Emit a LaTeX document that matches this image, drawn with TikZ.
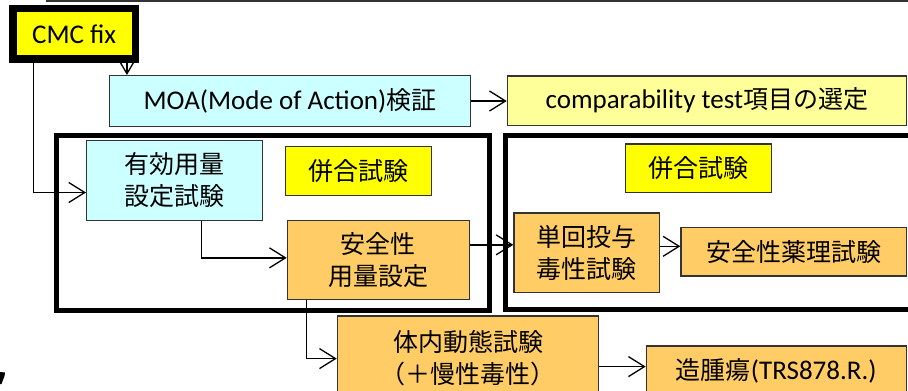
\documentclass[tikz,border=0pt]{standalone}
\usepackage{fontspec}
\setmainfont{Carlito}[Scale=1.08]
\newfontfamily\cjk{Noto Sans CJK JP}
\usetikzlibrary{arrows.meta}
\definecolor{lcyan}{HTML}{CCFFFF}
\definecolor{lyellow}{HTML}{FFFF99}
\definecolor{byellow}{HTML}{FFFF00}
\definecolor{lorange}{HTML}{FFCC66}

\begin{document}
\begin{tikzpicture}[x=1pt,y=-1pt,
		box/.style={draw=black!80,line width=1.4pt,inner sep=0pt,align=center,font=\fontsize{25}{32}\selectfont},
		jbox/.style={box,font=\fontsize{25}{32}\selectfont\cjk},
		arr/.style={-{Straight Barb[length=16pt,width=20pt]},line width=1.3pt},
		frame/.style={line width=5pt}]
		\useasboundingbox (0,0) rectangle (908,391);
		\clip (0,0) rectangle (908,391);
		\draw[draw=black!80,line width=1.6pt] (47,-20) rectangle (930,1.2);
		\draw[frame] (56,135.5) rectangle (489.5,310);
		\draw[frame] (505,135) rectangle (930,309.5);
		\fill (0,372) -- (5,372.5) -- (4.5,376) -- (1.5,384) -- (0,384) -- cycle;
		\draw (74.15,33.85) node [box,draw=black,line width=7.3pt,fill=byellow,minimum width=122.3pt,minimum height=50.3pt] (cmc) {CMC fix};
		\draw (290,101) node [box,fill=lcyan,minimum width=360.6pt,minimum height=50.6pt] (moa) {MOA(Mode of Action){\cjk 検証}};
		\draw (706.85,100.65) node [box,fill=lyellow,minimum width=398.9pt,minimum height=49.3pt] (comp) {comparability test{\cjk 項目の選定}};
		\draw (174.65,180.5) node [jbox,fill=lcyan,minimum width=175.9pt,minimum height=79.6pt] (eff) {有効用量\\設定試験};
		\draw (358.65,170.85) node [jbox,fill=byellow,minimum width=145.9pt,minimum height=48.9pt] (comba) {併合試験};
		\draw (698.65,168.3) node [jbox,fill=byellow,minimum width=145.9pt,minimum height=48.6pt] (combb) {併合試験};
		\draw (378.35,259.85) node [jbox,fill=lorange,minimum width=181.9pt,minimum height=78.9pt] (dose) {安全性\\用量設定};
		\draw (586.8,252.8) node [jbox,fill=lorange,minimum width=145.6pt,minimum height=79.6pt] (single) {単回投与\\毒性試験};
		\draw (793.65,251.7) node [jbox,fill=lorange,minimum width=225.3pt,minimum height=48.6pt] (pharm) {安全性薬理試験};
		\draw (468,358.6) node [jbox,fill=lorange,minimum width=261.2pt,minimum height=85.2pt] (pk) {体内動態試験\\（＋慢性毒性）};
		\draw (776.35,371.15) node [box,fill=lorange,minimum width=259.9pt,minimum height=50.3pt] (tum) {{\cjk 造腫瘍}(TRS878.R.)};
		\draw[-{Straight Barb[length=11pt,width=13pt]},line width=1.3pt] ([xshift=-12pt]cmc.south east) -- ([xshift=-12pt]cmc.south east |- moa.north);
		\draw[arr] ([xshift=24pt]cmc.south west) |- ([yshift=-12pt]eff.west);
		\draw[arr] (moa.east) -- (moa.east -| comp.west);
		\draw[arr] ([xshift=27pt]eff.south) |- ([yshift=2pt]dose.west);
		\draw[arr] ([xshift=20pt]dose.south west) |- (pk.west);
		\draw[arr] ([yshift=15pt]dose.east) -- ([yshift=15pt]dose.east -| single.west);
		\draw[arr] ([yshift=6.5pt]single.east) -- ([yshift=6.5pt]single.east -| pharm.west);
		\draw[arr] ([yshift=-8pt]pk.east) -- ([yshift=-8pt]pk.east -| tum.west);
	\end{tikzpicture}
\end{document}
